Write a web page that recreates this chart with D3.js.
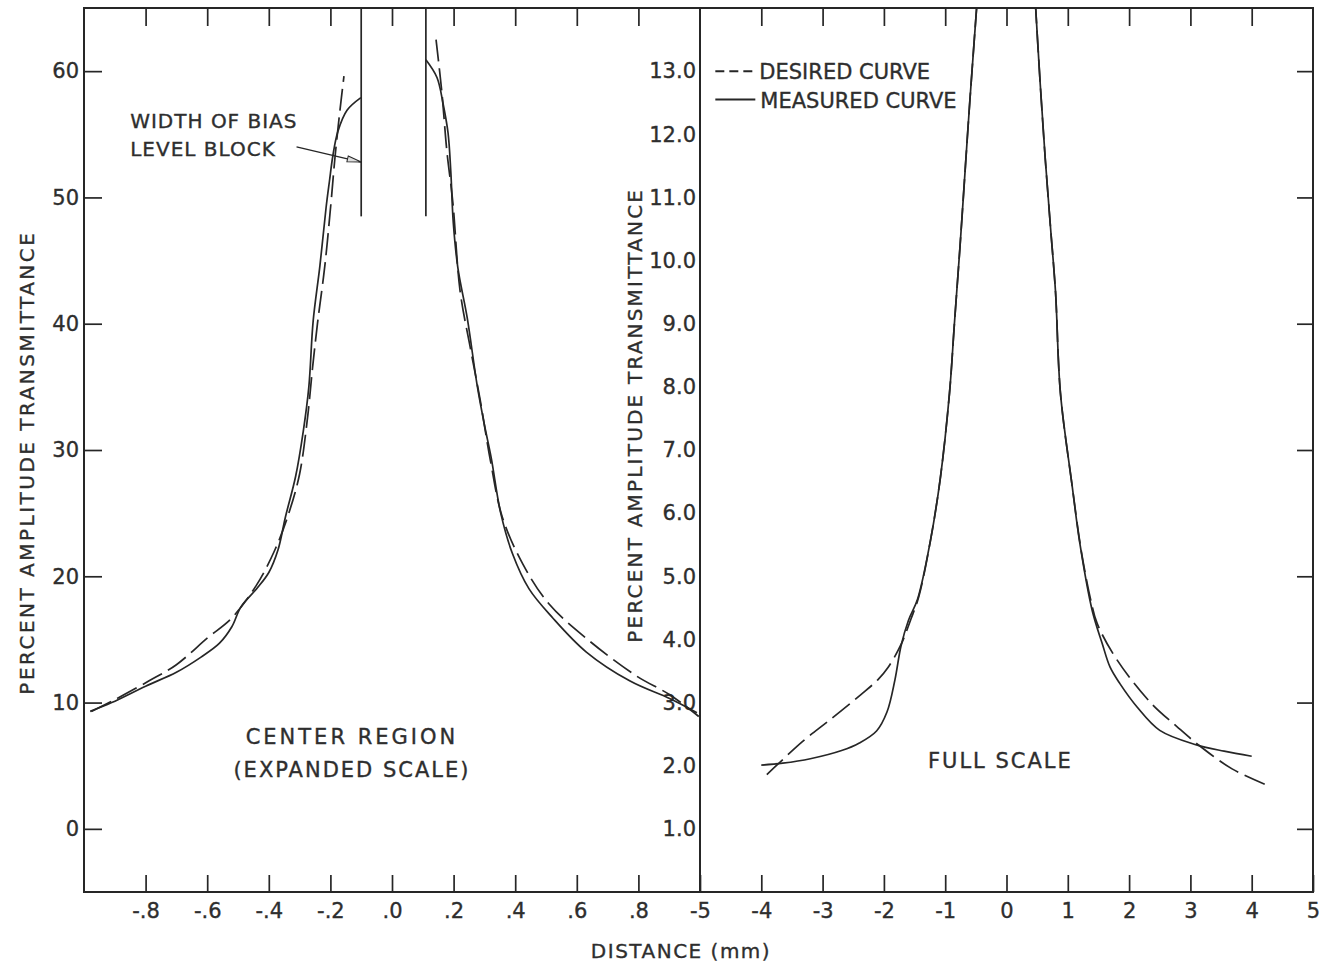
<!DOCTYPE html>
<html>
<head>
<meta charset="utf-8">
<script src="https://d3js.org/d3.v7.min.js"></script>
<style>
  body { margin: 0; background: #fff; }
  text { font-family: 'DejaVu Sans', sans-serif; fill: #2e2e2e; stroke: #2e2e2e; stroke-width: 0.35; }
  .frame, .domain { stroke: #262626; stroke-width: 2; fill: none; }
  .tick line { stroke: #262626; stroke-width: 1.7; }
  .curve { fill: none; stroke: #262626; stroke-width: 1.7; }
  .desired { stroke-dasharray: 22, 7; }
</style>
</head>
<body>
<svg id="chart" width="1321" height="972"></svg>
<script>
// ---- data ----
// center region (expanded scale): distance in mm, percent transmittance
const centerXTicks = [-0.8, -0.6, -0.4, -0.2, 0, 0.2, 0.4, 0.6, 0.8];
const centerXLabels = ["-.8", "-.6", "-.4", "-.2", ".0", ".2", ".4", ".6", ".8"];
const centerYTicks = [0, 10, 20, 30, 40, 50, 60];
const biasBlock = [-0.1, 0.11];

const centerDesiredLeft = [
  [-0.976, 9.3], [-0.91, 10.1], [-0.79, 11.7], [-0.70, 13.0], [-0.60, 15.1],
  [-0.52, 16.7], [-0.44, 19.3], [-0.38, 22.1], [-0.335, 25.0], [-0.30, 28.1],
  [-0.275, 32.4], [-0.258, 36.5], [-0.242, 40.0], [-0.218, 44.6], [-0.198, 49.6],
  [-0.185, 53.2], [-0.169, 56.9], [-0.156, 59.6]
];
const centerMeasuredLeft = [
  [-0.98, 9.3], [-0.91, 10.0], [-0.80, 11.3], [-0.70, 12.4], [-0.62, 13.6],
  [-0.56, 14.7], [-0.52, 16.0], [-0.49, 17.6], [-0.44, 19.0], [-0.40, 20.3],
  [-0.37, 22.1], [-0.346, 24.7], [-0.313, 27.9], [-0.288, 31.5], [-0.27, 35.0],
  [-0.256, 40.2], [-0.234, 44.6], [-0.214, 49.2], [-0.203, 51.3], [-0.192, 53.3],
  [-0.176, 55.2], [-0.146, 56.9], [-0.101, 57.9]
];
const centerDesiredRight = [
  [0.143, 62.5], [0.162, 58.3], [0.178, 53.7], [0.198, 49.5], [0.221, 42.6],
  [0.255, 38.0], [0.286, 34.0], [0.32, 29.1], [0.358, 24.7], [0.424, 21.0],
  [0.51, 17.8], [0.64, 14.9], [0.794, 12.1], [0.903, 10.6], [0.996, 8.9]
];
const centerMeasuredRight = [
  [0.11, 60.9], [0.146, 59.5], [0.166, 57.4], [0.182, 55.1], [0.191, 52.0],
  [0.199, 48.0], [0.214, 44.4], [0.244, 40.5], [0.276, 35.2], [0.30, 32.0],
  [0.322, 29.4], [0.353, 25.0], [0.391, 21.8], [0.445, 19.0], [0.522, 16.7],
  [0.631, 14.0], [0.773, 11.7], [0.903, 10.3], [0.99, 9.2]
];

// full scale: distance in mm, percent transmittance
const fullXTicks = [-5, -4, -3, -2, -1, 0, 1, 2, 3, 4, 5];
const fullYTicks = [1, 2, 3, 4, 5, 6, 7, 8, 9, 10, 11, 12, 13];
const fullYLabels = ["1.0", "2.0", "3.0", "4.0", "5.0", "6.0", "7.0", "8.0", "9.0", "10.0", "11.0", "12.0", "13.0"];
const fullEdgeTicks = [1, 3, 5, 7, 9, 11, 13];

const fullDesiredLeft = [
  [-3.91, 1.86], [-3.33, 2.38], [-2.89, 2.72], [-2.37, 3.13], [-2.1, 3.36],
  [-1.93, 3.56], [-1.72, 3.92], [-1.56, 4.32], [-1.43, 4.68], [-1.24, 5.57],
  [-1.08, 6.55], [-0.93, 7.9], [-0.85, 9.0], [-0.76, 10.2], [-0.67, 11.5],
  [-0.6, 12.5], [-0.48, 14.1]
];
const fullMeasuredLeft = [
  [-4.0, 2.01], [-3.65, 2.04], [-3.2, 2.11], [-2.69, 2.24], [-2.4, 2.36],
  [-2.12, 2.55], [-1.95, 2.85], [-1.82, 3.36], [-1.72, 3.9], [-1.6, 4.3],
  [-1.45, 4.64], [-1.24, 5.57], [-1.08, 6.55], [-0.93, 7.9], [-0.85, 9.0],
  [-0.76, 10.2], [-0.67, 11.5], [-0.6, 12.5], [-0.48, 14.1]
];
const fullDesiredRight = [
  [0.47, 14.1], [0.55, 12.8], [0.633, 11.6], [0.72, 10.5], [0.8, 9.5],
  [0.88, 7.9], [1.07, 6.44], [1.22, 5.4], [1.38, 4.6], [1.48, 4.25],
  [1.8, 3.68], [2.35, 3.0], [2.78, 2.62], [3.13, 2.33], [3.68, 1.95], [4.28, 1.68]
];
const fullMeasuredRight = [
  [0.47, 14.1], [0.55, 12.8], [0.633, 11.6], [0.72, 10.5], [0.8, 9.5],
  [0.88, 7.9], [1.07, 6.44], [1.2, 5.5], [1.4, 4.45], [1.56, 3.94],
  [1.69, 3.56], [1.85, 3.3], [2.13, 2.93], [2.5, 2.56], [3.1, 2.33],
  [3.55, 2.23], [4.0, 2.15]
];

// ---- layout ----
const svg = d3.select("#chart");
const plotTop = 8, plotBottom = 892, plotLeft = 84, plotMid = 700, plotRight = 1313;

const xC = d3.scaleLinear().domain([-1, 1]).range([plotLeft, plotMid]);
const yC = d3.scaleLinear().domain([-5, 65]).range([plotBottom, plotTop]);
const xF = d3.scaleLinear().domain([-5, 5]).range([plotMid, plotRight]);
const yF = d3.scaleLinear().domain([0, 14]).range([plotBottom, plotTop]);

// clip paths for each panel
const defs = svg.append("defs");
defs.append("clipPath").attr("id", "clipC").append("rect")
  .attr("x", plotLeft).attr("y", plotTop).attr("width", plotMid - plotLeft).attr("height", plotBottom - plotTop);
defs.append("clipPath").attr("id", "clipF").append("rect")
  .attr("x", plotMid).attr("y", plotTop).attr("width", plotRight - plotMid).attr("height", plotBottom - plotTop);
defs.append("marker")
  .attr("id", "arrow").attr("viewBox", "0 0 14 8").attr("refX", 14).attr("refY", 4)
  .attr("markerWidth", 16).attr("markerHeight", 8).attr("markerUnits", "userSpaceOnUse")
  .attr("orient", "auto")
  .append("path").attr("d", "M0,1 L14,4 L0,7 Z")
  .attr("fill", "#ddd").attr("stroke", "#262626").attr("stroke-width", 1);

// frame
svg.append("rect").attr("class", "frame")
  .attr("x", plotLeft).attr("y", plotTop).attr("width", plotRight - plotLeft).attr("height", plotBottom - plotTop);
svg.append("line").attr("class", "frame")
  .attr("x1", plotMid).attr("x2", plotMid).attr("y1", plotTop).attr("y2", plotBottom);

// axes - center panel
svg.append("g").attr("transform", `translate(0,${plotBottom})`)
  .call(d3.axisBottom(xC).tickValues(centerXTicks).tickSize(-17).tickPadding(11)
    .tickFormat((d, i) => centerXLabels[i]))
  .call(g => g.select(".domain").remove());
svg.append("g").attr("transform", `translate(0,${plotTop})`)
  .call(d3.axisTop(xC).tickValues(centerXTicks).tickSize(-18).tickFormat(""))
  .call(g => g.select(".domain").remove());
svg.append("g").attr("transform", `translate(${plotLeft},0)`)
  .call(d3.axisLeft(yC).tickValues(centerYTicks).tickSize(-18).tickPadding(5))
  .call(g => g.select(".domain").remove());

// axes - full panel
svg.append("g").attr("transform", `translate(0,${plotBottom})`)
  .call(d3.axisBottom(xF).tickValues(fullXTicks).tickSize(-17).tickPadding(11)
    .tickFormat(d => d < 0 ? "-" + Math.abs(d) : String(d)))
  .call(g => g.select(".domain").remove());
svg.append("g").attr("transform", `translate(0,${plotTop})`)
  .call(d3.axisTop(xF).tickValues(fullXTicks.slice(1, -1)).tickSize(-18).tickFormat(""))
  .call(g => g.select(".domain").remove());
svg.append("g").attr("transform", `translate(${plotMid},0)`)
  .call(d3.axisLeft(yF).tickValues(fullYTicks).tickSize(0).tickPadding(4)
    .tickFormat((d, i) => fullYLabels[i]))
  .call(g => g.select(".domain").remove());
svg.append("g").attr("transform", `translate(${plotRight},0)`)
  .call(d3.axisRight(yF).tickValues(fullEdgeTicks).tickSize(-16).tickFormat(""))
  .call(g => g.select(".domain").remove());

svg.selectAll(".tick text").style("font-size", "21px").attr("fill", "#2e2e2e");

// curves
const lineC = d3.line().x(d => xC(d[0])).y(d => yC(d[1])).curve(d3.curveCatmullRom.alpha(0.5));
const lineF = d3.line().x(d => xF(d[0])).y(d => yF(d[1])).curve(d3.curveCatmullRom.alpha(0.5));

const gC = svg.append("g").attr("clip-path", "url(#clipC)");
[centerMeasuredLeft, centerMeasuredRight].forEach(s =>
  gC.append("path").attr("class", "curve").attr("d", lineC(s)));
[centerDesiredLeft, centerDesiredRight].forEach(s =>
  gC.append("path").attr("class", "curve desired").attr("d", lineC(s)));

const gF = svg.append("g").attr("clip-path", "url(#clipF)");
[fullMeasuredLeft, fullMeasuredRight].forEach(s =>
  gF.append("path").attr("class", "curve").attr("d", lineF(s)));
[fullDesiredLeft, fullDesiredRight].forEach(s =>
  gF.append("path").attr("class", "curve desired").attr("d", lineF(s)));

// bias level block
svg.selectAll(".bias").data(biasBlock).enter().append("line")
  .attr("class", "bias")
  .attr("x1", d => xC(d)).attr("x2", d => xC(d))
  .attr("y1", plotTop).attr("y2", yC(48.5))
  .attr("stroke", "#262626").attr("stroke-width", 1.7);

svg.append("text").attr("x", xC(-0.85)).attr("y", yC(55.5))
  .style("font-size", "20px").style("letter-spacing", "1px").text("WIDTH OF BIAS");
svg.append("text").attr("x", xC(-0.85)).attr("y", yC(53.3))
  .style("font-size", "20px").style("letter-spacing", "1px").text("LEVEL BLOCK");
svg.append("line")
  .attr("x1", xC(-0.31)).attr("y1", yC(54.0))
  .attr("x2", xC(biasBlock[0])).attr("y2", yC(52.8))
  .attr("stroke", "#262626").attr("stroke-width", 1.4)
  .attr("marker-end", "url(#arrow)");

// panel captions
svg.append("text").attr("x", xC(-0.13)).attr("y", yC(6.7)).attr("text-anchor", "middle")
  .style("font-size", "21px").style("letter-spacing", "3px").text("CENTER REGION");
svg.append("text").attr("x", xC(-0.13)).attr("y", yC(4.1)).attr("text-anchor", "middle")
  .style("font-size", "21px").style("letter-spacing", "2px").text("(EXPANDED SCALE)");
svg.append("text").attr("x", xF(-0.1)).attr("y", yF(1.97)).attr("text-anchor", "middle")
  .style("font-size", "21px").style("letter-spacing", "2px").text("FULL SCALE");

// legend
const legend = svg.append("g").attr("transform", `translate(${xF(-4.75)},0)`);
legend.append("line").attr("x1", 0).attr("x2", 42).attr("y1", yF(13)).attr("y2", yF(13))
  .attr("stroke", "#262626").attr("stroke-width", 2).attr("stroke-dasharray", "9,5");
legend.append("text").attr("x", 44).attr("y", yF(13) + 8)
  .style("font-size", "21px").text("DESIRED  CURVE");
legend.append("line").attr("x1", 0).attr("x2", 40).attr("y1", yF(12.55)).attr("y2", yF(12.55))
  .attr("stroke", "#262626").attr("stroke-width", 2);
legend.append("text").attr("x", 45).attr("y", yF(12.55) + 8)
  .style("font-size", "21px").text("MEASURED CURVE");

// axis titles
svg.append("text")
  .attr("transform", `translate(34,${yC(29)}) rotate(-90)`)
  .attr("text-anchor", "middle").style("font-size", "20px").style("letter-spacing", "2.5px")
  .text("PERCENT  AMPLITUDE  TRANSMITTANCE");
svg.append("text")
  .attr("transform", `translate(642,${yF(7.55)}) rotate(-90)`)
  .attr("text-anchor", "middle").style("font-size", "20px").style("letter-spacing", "2.2px")
  .text("PERCENT  AMPLITUDE  TRANSMITTANCE");
svg.append("text").attr("x", 681).attr("y", 958).attr("text-anchor", "middle")
  .style("font-size", "20px").style("letter-spacing", "1.5px").text("DISTANCE (mm)");
</script>
</body>
</html>
